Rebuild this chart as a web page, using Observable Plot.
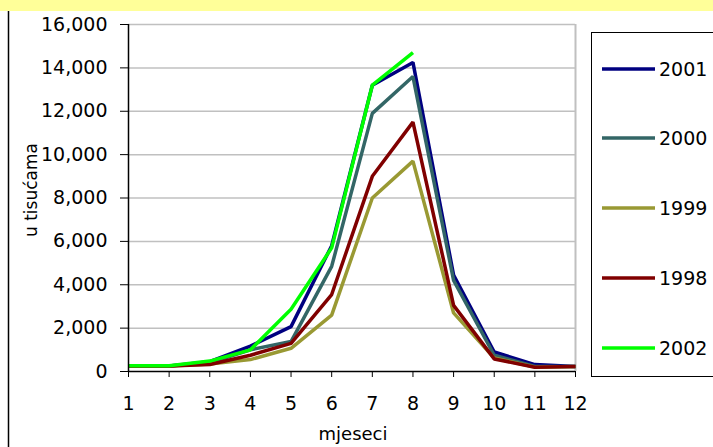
<!DOCTYPE html>
<html>
<head>
<meta charset="utf-8">
<script src="https://cdn.jsdelivr.net/npm/d3@7"></script>
<script src="https://cdn.jsdelivr.net/npm/@observablehq/plot@0.6"></script>
<style>
  html, body { margin: 0; padding: 0; background: #fff; }
  #chart { width: 713px; height: 447px; overflow: hidden; }
</style>
</head>
<body>
<div id="chart"></div>
<script>
const months = [1,2,3,4,5,6,7,8,9,10,11,12];
const years = ["2001","2000","1999","1998","2002"];
const colors = ["#000080","#336666","#999933","#800000","#00ff00"];
const v2001 = [250,250,450,1170,2070,5800,13200,14250,4450,900,320,230];
const v2000 = [250,250,400,1000,1380,4850,11900,13600,4200,750,230,230];
const v1999 = [250,250,350,550,1070,2600,8000,9700,2700,620,200,230];
const v1998 = [250,250,320,750,1300,3550,9000,11500,3050,580,200,230];
const v2002 = [270,270,480,1000,2870,5700,13200,14700];
const yTicks = [0,2000,4000,6000,8000,10000,12000,14000,16000];
const xLabel = "mjeseci";
const yLabel = "u tisućama";

const series = [v2001, v2000, v1999, v1998, v2002];
const rows = [];
series.forEach((vals, i) => vals.forEach((v, j) => rows.push({year: years[i], month: months[j], value: v})));

const font = "DejaVu Sans, Verdana, sans-serif";
const W = 713, H = 447;

const plot = Plot.plot({
  width: W, height: H,
  marginLeft: 128, marginRight: 138, marginTop: 24, marginBottom: 76,
  style: {fontFamily: font, fontSize: "19px", color: "#000", background: "#fff", overflow: "visible"},
  x: {domain: [1, 12]},
  y: {domain: [0, 16000]},
  color: {domain: years, range: colors},
  marks: [
    Plot.ruleY(yTicks.slice(1), {stroke: "#c0c0c0", strokeWidth: 1.5}),
    Plot.ruleX([12], {stroke: "#c0c0c0", strokeWidth: 2}),
    ...years.map(y => Plot.line(rows.filter(d => d.year === y), {
      x: "month", y: "value", stroke: "year", strokeWidth: 3.5, strokeLinejoin: "miter", strokeLinecap: "butt"
    })),
    Plot.ruleX([1], {stroke: "#000", strokeWidth: 1.5}),
    Plot.ruleY([0], {stroke: "#000", strokeWidth: 1.5}),
    Plot.axisY({ticks: yTicks, tickSize: 8, tickPadding: 13, tickFormat: d3.format(","), label: null, fontSize: 19, stroke: "#000"}),
    Plot.axisX({ticks: months, tickSize: 6, tickPadding: 19, tickFormat: d => String(d), label: null, fontSize: 19})
  ]
});

document.getElementById("chart").appendChild(plot);

const svg = d3.select(plot);
// top yellow band
svg.append("rect").attr("x", 0).attr("y", 0).attr("width", W).attr("height", 11).attr("fill", "#ffff99");
// left vertical line
svg.append("line").attr("x1", 8.5).attr("x2", 8.5).attr("y1", 11).attr("y2", H).attr("stroke", "#000").attr("stroke-width", 1.5);
// axis titles
svg.append("text").attr("transform", "translate(37,190) rotate(-90)").attr("text-anchor", "middle")
  .attr("font-family", font).attr("font-size", 17).text(yLabel);
svg.append("text").attr("x", 353).attr("y", 440).attr("text-anchor", "middle")
  .attr("font-family", font).attr("font-size", 18).text(xLabel);
// legend
svg.append("rect").attr("x", 591.5).attr("y", 32.5).attr("width", 140).attr("height", 344)
  .attr("fill", "#fff").attr("stroke", "#000").attr("stroke-width", 1);
const legY = [69, 138, 208, 278, 348];
years.forEach((y, i) => {
  svg.append("line").attr("x1", 602).attr("x2", 655).attr("y1", legY[i]).attr("y2", legY[i])
    .attr("stroke", colors[i]).attr("stroke-width", 3.5);
  svg.append("text").attr("x", 659).attr("y", legY[i]).attr("dy", "0.36em").attr("text-anchor", "start")
    .attr("font-family", font).attr("font-size", 19).text(y);
});
</script>
</body>
</html>
